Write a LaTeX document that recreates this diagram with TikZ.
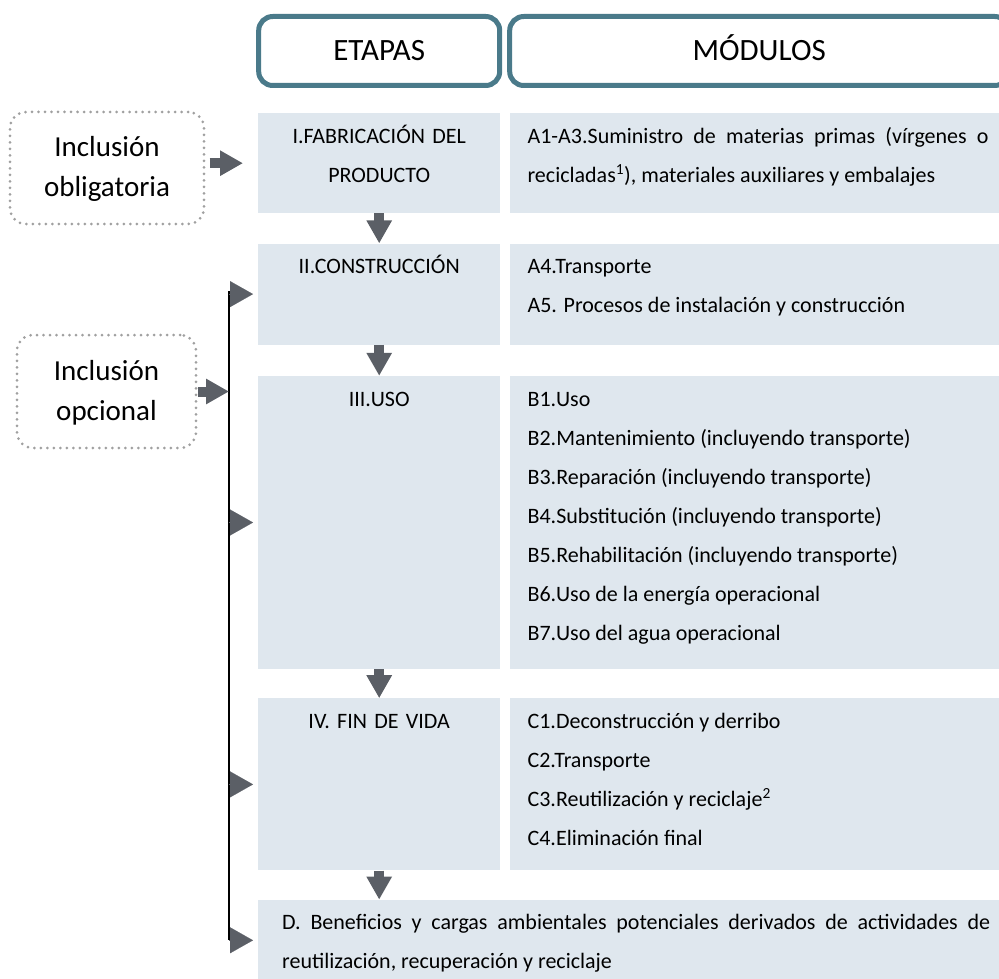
\documentclass[tikz,border=0pt]{standalone}
\usepackage{fontspec}
\setmainfont{Carlito}
\usepackage{tikz}
\usetikzlibrary{positioning, arrows.meta}
\definecolor{hdrteal}{HTML}{4A7A8A}
\definecolor{boxfill}{HTML}{DFE7EE}
\definecolor{arrowgray}{HTML}{5B5F66}
\definecolor{dotgray}{HTML}{A0A0A0}
\tikzstyle{header} = [rectangle, rounded corners=14pt, line width=5pt, draw=hdrteal, minimum height=69pt, text height=20pt, text depth=0pt, font=\fontsize{31}{37}\selectfont]
\tikzstyle{inclusion} = [rectangle, rounded corners=16pt, draw=dotgray, line width=3pt, line cap=round, dash pattern=on 0pt off 6.5pt, text width=160pt, align=center, text height=20pt, text depth=42pt, font=\fontsize{29}{40}\selectfont]
\tikzstyle{stage} = [rectangle, fill=boxfill, text width=226pt, inner xsep=8pt, inner ysep=14pt, text height=16pt, align=center, font=\fontsize{22}{39}\selectfont]
\tikzstyle{module} = [rectangle, fill=boxfill, text width=461pt, inner xsep=18pt, inner ysep=14pt, text height=16pt, align=justify, font={\fontsize{22}{39}\selectfont\tolerance=10000 \hyphenpenalty=10000 }]
\tikzstyle{blockarrow} = [line width=10pt, draw=arrowgray, -{Triangle[width=24pt,length=23pt]}]
\tikzstyle{sidearrow} = [line width=0.1pt, draw=arrowgray, fill=arrowgray, shorten >=5pt, -{Triangle[width=26pt,length=23pt]}]
\tikzstyle{rail} = [line width=2pt, draw=black]

\begin{document}
\begin{tikzpicture}[x=1pt, y=1pt]
		\useasboundingbox (0,0) rectangle (999,-979);
		
		% Stages
		\node (fabricacion) [stage, text depth=56pt, anchor=north west] at (258,-113) {I.FABRICACIÓN DEL\\PRODUCTO};
		\node (construccion) [stage, text depth=57pt, below=30pt of fabricacion] {II.CONSTRUCCIÓN};
		\node (uso) [stage, text depth=249pt, below=31pt of construccion] {III.USO};
		\node (finvida) [stage, text depth=128pt, below=29pt of uso] {IV. FIN DE VIDA};
		\node (beneficios) [module, text width=708pt, inner xsep=24pt, text depth=37pt, below=29pt of finvida.south west, anchor=north west] {D. Beneficios y cargas ambientales potenciales derivados de actividades de\linebreak reutilización, recuperación y reciclaje};
		
		% Modules
		\node (modFab) [module, text depth=56pt, right=9pt of fabricacion] {A1-A3.Suministro de materias primas (vírgenes o\linebreak recicladas\textsuperscript{1}), materiales auxiliares y embalajes};
		\node (modCons) [module, text depth=57pt, right=9pt of construccion] {A4.Transporte\\A5. Procesos de instalación y construcción};
		\node (modUso) [module, text depth=249pt, right=9pt of uso] {B1.Uso\\B2.Mantenimiento (incluyendo transporte)\\B3.Reparación (incluyendo transporte)\\B4.Substitución (incluyendo transporte)\\B5.Rehabilitación (incluyendo transporte)\\B6.Uso de la energía operacional\\B7.Uso del agua operacional};
		\node (modFin) [module, text depth=128pt, right=9pt of finvida] {C1.Deconstrucción y derribo\\C2.Transporte\\C3.Reutilización y reciclaje\textsuperscript{2}\\C4.Eliminación final};
		
		% Headers
		\node (hdrEtapas) [header, minimum width=241pt, above=25pt of fabricacion] {ETAPAS};
		\node (hdrModulos) [header, minimum width=499pt, right=5pt of hdrEtapas] {MÓDULOS};
		
		% Inclusion boxes
		\node (obligatoria) [inclusion, minimum width=194pt, minimum height=112pt] at (107,-168) {Inclusión\\obligatoria};
		\node (opcional) [inclusion, minimum width=179pt, minimum height=113pt] at (106.5,-391.5) {Inclusión\\opcional};
		\coordinate (railtop) at (229,-291);
		
		% Arrows
		\draw [blockarrow] (fabricacion) -- (construccion);
		\draw [blockarrow] (construccion) -- (uso);
		\draw [blockarrow] (uso) -- (finvida);
		\draw [blockarrow] (finvida.south) -- (finvida.south |- beneficios.north);
		\draw [blockarrow, shorten <=4pt, shorten >=15pt] (obligatoria.east |- fabricacion.west) -- (fabricacion.west);
		\draw [rail] (railtop) -- (railtop |- beneficios.west);
		\draw [blockarrow] (opcional.east) -- (opcional.east -| railtop);
		\draw [sidearrow] (railtop |- construccion.west) -- (construccion.west);
		\draw [sidearrow] (railtop |- uso.west) -- (uso.west);
		\draw [sidearrow] (railtop |- finvida.west) -- (finvida.west);
		\draw [sidearrow] (railtop |- beneficios.west) -- (beneficios.west);
		
\end{tikzpicture}
\end{document}
